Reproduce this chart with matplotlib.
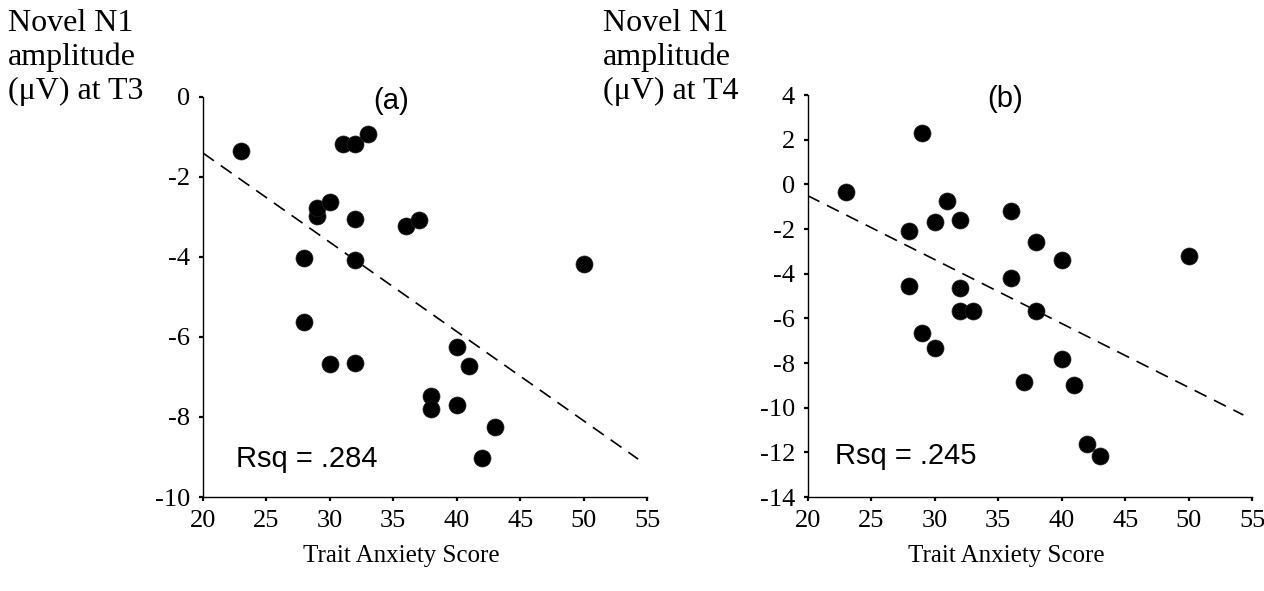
"""Novel N1 amplitude vs trait anxiety score at T3 (a) and T4 (b), with linear fits."""

import matplotlib

matplotlib.use("Agg")
import matplotlib.pyplot as plt
import numpy as np

plt.rcParams["axes.unicode_minus"] = False

# panel (a): T3
anxiety_a = [23, 31, 32, 33, 29, 29, 30, 32, 28, 32, 36, 37, 50,
             40, 41, 38, 38, 40, 43, 42, 28, 30, 32]
n1_t3 = [-1.35, -1.18, -1.18, -0.93, -2.99, -2.78, -2.64, -3.05, -4.02, -4.07,
         -3.24, -3.09, -4.19, -6.26, -6.72, -7.47, -7.80, -7.69, -8.25, -9.02,
         -5.64, -6.67, -6.65]

# panel (b): T4
anxiety_b = [23, 29, 31, 32, 30, 28, 28, 32, 32, 33, 36, 38, 29,
             30, 37, 36, 38, 40, 50, 40, 41, 42, 43]
n1_t4 = [-0.35, 2.29, -0.76, -1.58, -1.70, -2.10, -4.53, -4.65, -5.65, -5.65,
         -4.20, -5.68, -6.66, -7.33, -8.85, -1.18, -2.56, -3.37, -3.22, -7.81,
         -8.96, -11.62, -12.17]

rsq_labels = ["Rsq = .284", "Rsq = .245"]
panel_tags = ["(a)", "(b)"]
ylabels = ["Novel N1\namplitude\n(\u03bcV) at T3", "Novel N1\namplitude\n(\u03bcV) at T4"]
xlabel = "Trait Anxiety Score"
x_ticks = [20, 25, 30, 35, 40, 45, 50, 55]
y_ticks_a = [0, -2, -4, -6, -8, -10]
y_ticks_b = [4, 2, 0, -2, -4, -6, -8, -10, -12, -14]
fit_range = [20, 54.3]

SERIF = "Liberation Serif"
SANS = "Liberation Sans"


def draw_panel(ax, x, y, yticks, tag, rsq, tag_x, rsq_xy):
    ax.scatter(x, y, s=150, color="black", edgecolors="#222222", linewidths=0.5, zorder=3)
    slope, icpt = np.polyfit(x, y, 1)
    xs = np.array(fit_range)
    ax.plot(xs, icpt + slope * xs, color="black", lw=1.2, dashes=(8, 5), zorder=2)

    ax.set_xlim(20, 55)
    ax.set_ylim(min(yticks), max(yticks))
    ax.set_xticks(x_ticks)
    ax.set_yticks(yticks)
    for side in ("top", "right"):
        ax.spines[side].set_visible(False)
    for side in ("left", "bottom"):
        ax.spines[side].set_linewidth(1.0)
    ax.tick_params(direction="out", length=3, width=1.6, labelsize=19, pad=6)
    for lbl in ax.get_xticklabels() + ax.get_yticklabels():
        lbl.set_family(SERIF)

    ax.text(tag_x, 0.99, tag, transform=ax.transAxes, ha="center", va="center",
            fontsize=21, family=SANS)
    ax.text(rsq_xy[0], rsq_xy[1], rsq, transform=ax.transAxes, ha="left",
            va="baseline", fontsize=21, family=SANS)
    ax.set_xlabel(xlabel, fontsize=18, family=SERIF)
    ax.xaxis.set_label_coords(0.446, -0.12)


def main() -> None:
    fig = plt.figure(figsize=(12.64, 5.91), dpi=100)
    ax_a = fig.add_axes([0.1606, 0.159, 0.3513, 0.6777])
    ax_b = fig.add_axes([0.6389, 0.159, 0.3518, 0.6800])

    draw_panel(ax_a, anxiety_a, n1_t3, y_ticks_a, panel_tags[0], rsq_labels[0], 0.423, (0.074, 0.075))
    draw_panel(ax_b, anxiety_b, n1_t4, y_ticks_b, panel_tags[1], rsq_labels[1], 0.445, (0.062, 0.082))

    fig.text(8 / 1264, 1 - 9 / 591, ylabels[0], ha="left", va="top", fontsize=23,
             family=SERIF, linespacing=1.2)
    fig.text(603 / 1264, 1 - 9 / 591, ylabels[1], ha="left", va="top", fontsize=23,
             family=SERIF, linespacing=1.2)

    fig.savefig("out.png", dpi=100)


if __name__ == "__main__":
    main()
